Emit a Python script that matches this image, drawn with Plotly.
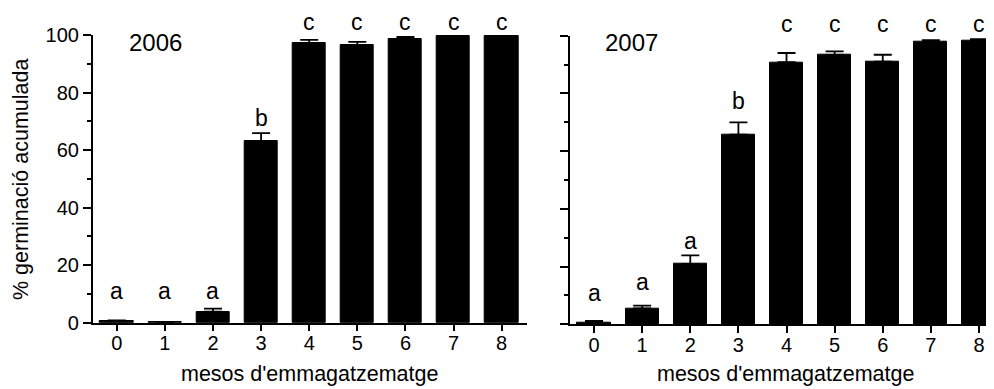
import plotly.graph_objects as go

# ---- data ----
months = [0, 1, 2, 3, 4, 5, 6, 7, 8]
germ_2006 = [0.5, 0.1, 3.8, 63.0, 97.2, 96.5, 98.6, 99.7, 99.5]
err_2006 = [0.3, 0.0, 1.1, 2.9, 1.1, 1.1, 0.7, 0.4, 0.8]
letters_2006 = ["a", "a", "a", "b", "c", "c", "c", "c", "c"]
letter_y_2006 = [11, 11, 11, 71.2, 104.6, 104.6, 104.6, 104.6, 104.6]

germ_2007 = [0.6, 5.5, 20.9, 65.7, 90.8, 93.3, 91.0, 97.8, 98.3]
err_2007 = [0.6, 1.0, 3.0, 4.3, 3.2, 1.3, 2.4, 0.7, 0.5]
letters_2007 = ["a", "a", "a", "b", "c", "c", "c", "c", "c"]
letter_y_2007 = [10.7, 14.7, 28.9, 77.3, 103.9, 103.9, 103.9, 103.9, 103.9]

y_ticks = [0, 20, 40, 60, 80, 100]
x_title = "mesos d'emmagatzematge"
y_title = "% germinació acumulada"
panel_labels = ["2006", "2007"]

FONT = "Liberation Sans, Arial, sans-serif"
PAGE_W, PAGE_H = 994, 389
OFF = 8  # default body margin of the html page
W, H = PAGE_W - OFF, PAGE_H - OFF

fig = go.Figure()

def add_bars(y, err, xa, ya):
    fig.add_trace(go.Bar(
        x=months, y=y, xaxis=xa, yaxis=ya, width=0.69,
        marker=dict(color="black", line=dict(color="black", width=1)),
        error_y=dict(type="data", symmetric=False, array=err,
                     arrayminus=[0] * len(err), color="black",
                     thickness=1.8, width=9),
        cliponaxis=False, showlegend=False, hoverinfo="skip"))

add_bars(germ_2006, err_2006, "x", "y")
add_bars(germ_2007, err_2007, "x2", "y2")

# geometry (page pixels)
lx0, lx1 = 92.7, 526.7
rx0, rx1 = 570.0, 994.0
ly0, ly1 = 322.7, 35.0
ry0, ry1 = 324.3, 35.7
unit = (lx1 - lx0) / 9.02

def px(v):
    return (v - OFF) / W

def py(v):
    return (PAGE_H - v) / H

axis_common = dict(showline=True, linewidth=1.5, linecolor="black",
                   showgrid=False, zeroline=False, ticks="outside",
                   tickcolor="black", tickwidth=1.5,
                   tickfont=dict(family=FONT, size=20, color="black"))

fig.update_layout(
    width=W, height=H,
    margin=dict(l=0, r=0, t=0, b=0, autoexpand=False),
    paper_bgcolor="white", plot_bgcolor="white",
    bargap=0,
    xaxis=dict(domain=[px(lx0), px(lx1)], range=[-0.5, 8.52],
               tickvals=months, ticklen=7, anchor="y",
               ticklabelstandoff=-5, **axis_common),
    yaxis=dict(domain=[py(ly0), py(ly1)], range=[0, 100],
               tickvals=y_ticks, ticklen=8, anchor="x",
               minor=dict(dtick=10, tick0=0, ticklen=4, tickwidth=1.5,
                          tickcolor="black", ticks="outside"),
               **axis_common),
    xaxis2=dict(domain=[px(rx0), px(rx1)],
                range=[-0.5, -0.5 + (rx1 - rx0) / unit],
                tickvals=months, ticklen=7, anchor="y2",
                ticklabelstandoff=-5, **axis_common),
    yaxis2=dict(domain=[py(ry0), py(ry1)], range=[0, 100],
                tickvals=y_ticks, ticklen=8, anchor="x2", showticklabels=False,
                minor=dict(dtick=10, tick0=0, ticklen=4, tickwidth=1.5,
                           tickcolor="black", ticks="outside"),
                **axis_common),
)

ann = []
panels = [
    (letter_y_2006, letters_2006, lx0, ly0, ly1),
    (letter_y_2007, letters_2007, rx0, ry0, ry1),
]
for ys, ls, x0, y0, y1 in panels:
    for xv, yv, t in zip(months, ys, ls):
        page_x = x0 + (xv + 0.5) * unit
        page_y = y0 - (y0 - y1) * yv / 100.0
        ann.append(dict(x=px(page_x), y=py(page_y), xref="paper", yref="paper",
                        text=t, showarrow=False,
                        xanchor="center", yanchor="middle",
                        font=dict(family=FONT, size=23, color="black")))

lab = dict(family=FONT, size=24, color="black")
txt = dict(family=FONT, size=21.5, color="black")
ann.append(dict(x=px(155.5), y=py(42.7), xref="paper", yref="paper",
                text=panel_labels[0], showarrow=False, xanchor="center",
                yanchor="middle", font=lab))
ann.append(dict(x=px(631.7), y=py(42.3), xref="paper", yref="paper",
                text=panel_labels[1], showarrow=False, xanchor="center",
                yanchor="middle", font=lab))
ann.append(dict(x=px(309.5), y=py(374), xref="paper", yref="paper",
                text=x_title, showarrow=False, xanchor="center",
                yanchor="middle", font=txt))
ann.append(dict(x=px(785), y=py(374), xref="paper", yref="paper",
                text=x_title, showarrow=False, xanchor="center",
                yanchor="middle", font=txt))
ann.append(dict(x=px(21), y=py(180), xref="paper", yref="paper",
                text=y_title, showarrow=False, xanchor="center",
                yanchor="middle", textangle=-90, font=txt))
fig.update_layout(annotations=ann)

fig.write_html("out.html")
